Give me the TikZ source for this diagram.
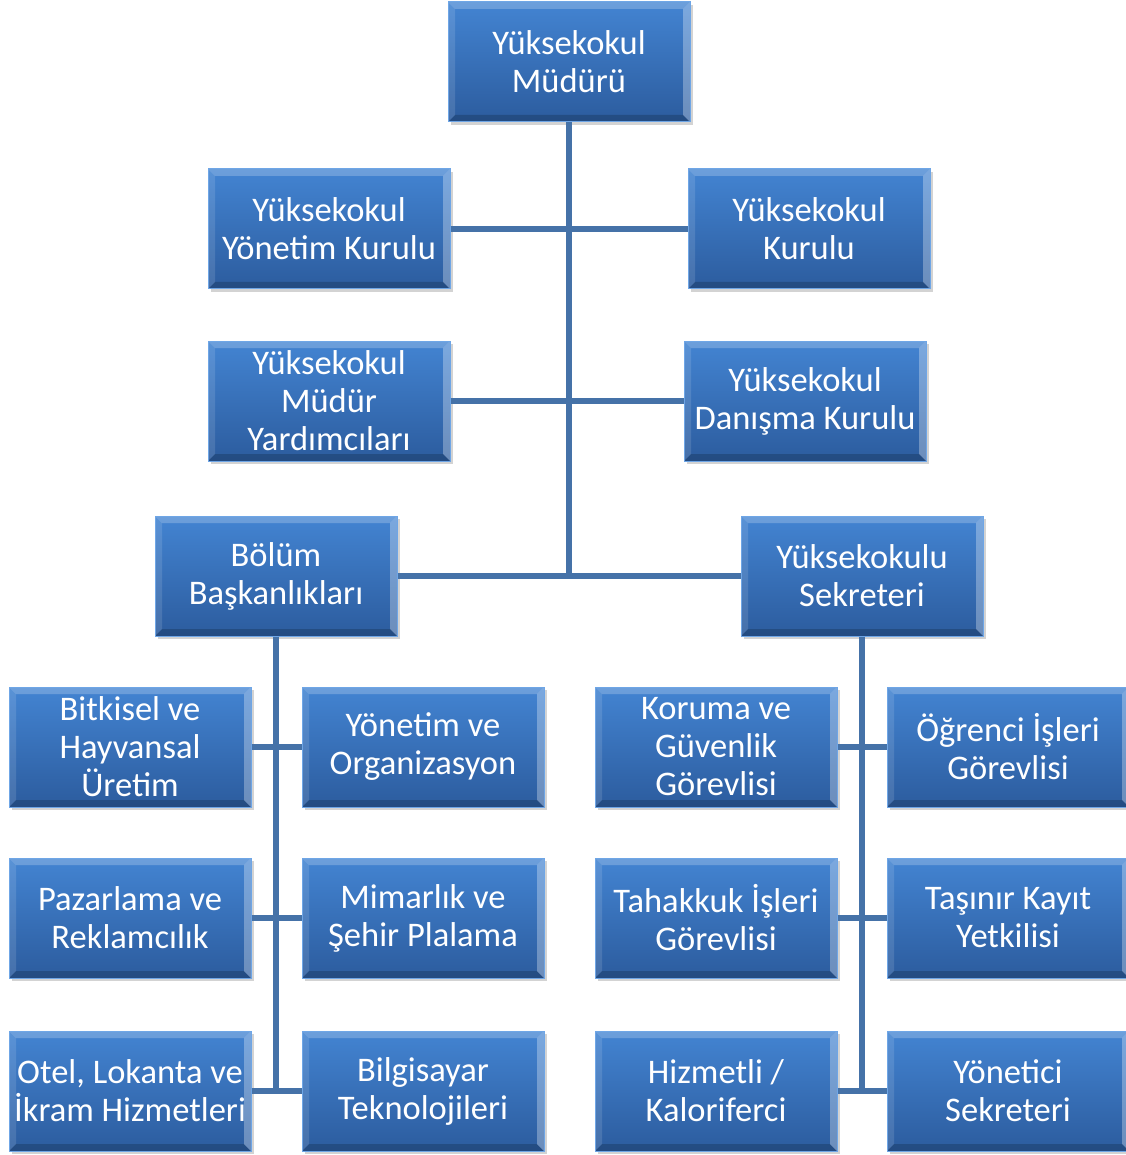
\documentclass[tikz,border=0pt]{standalone}
\usepackage{fontspec}
\setmainfont{Carlito}
\usetikzlibrary{shadows}

\definecolor{boxtop}{HTML}{4384D2}
\definecolor{boxbot}{HTML}{2C5C9E}
\definecolor{boxedge}{HTML}{6FA6E6}
\definecolor{linec}{HTML}{4572A8}

\tikzset{
  orgbox/.style={
    rectangle, minimum width=242pt, minimum height=120pt, inner sep=0pt,
    align=center, text=white, font=\fontsize{34.5}{38}\selectfont,
    top color=boxtop, bottom color=boxbot, draw=boxedge, line width=1pt,
    drop shadow={shadow xshift=3pt, shadow yshift=-3pt, opacity=0.35},
    path picture={
      \fill[white,opacity=0.22] (path picture bounding box.north west) -- (path picture bounding box.north east)
        -- ([xshift=-7pt,yshift=-7pt]path picture bounding box.north east) -- ([xshift=7pt,yshift=-7pt]path picture bounding box.north west) -- cycle;
      \fill[white,opacity=0.12] (path picture bounding box.north west) -- ([xshift=7pt,yshift=-7pt]path picture bounding box.north west)
        -- ([xshift=7pt,yshift=7pt]path picture bounding box.south west) -- (path picture bounding box.south west) -- cycle;
      \fill[black,opacity=0.18] (path picture bounding box.south west) -- (path picture bounding box.south east)
        -- ([xshift=-7pt,yshift=7pt]path picture bounding box.south east) -- ([xshift=7pt,yshift=7pt]path picture bounding box.south west) -- cycle;
      \fill[white,opacity=0.3] (path picture bounding box.north east) -- ([xshift=-7pt,yshift=-7pt]path picture bounding box.north east)
        -- ([xshift=-7pt,yshift=7pt]path picture bounding box.south east) -- (path picture bounding box.south east) -- cycle;
    }},
  orgline/.style={linec, line width=6pt}
}

\begin{document}
\begin{tikzpicture}[x=1pt,y=-1pt]
  \useasboundingbox (0,0) rectangle (1125,1155);

  % Top levels
  \node[orgbox] (mudur) at (569,62) {Yüksekokul\\Müdürü};
  \node[orgbox] (yonkur) at (329,229) {Yüksekokul\\Yönetim Kurulu};
  \node[orgbox] (kurul) at (809,229) {Yüksekokul\\Kurulu};
  \node[orgbox] (yardim) at (329,401) {Yüksekokul\\Müdür\\Yardımcıları};
  \node[orgbox] (danisma) at (805,401) {Yüksekokul\\Danışma Kurulu};
  \node[orgbox] (bolum) at (276,576) {Bölüm\\Başkanlıkları};
  \node[orgbox] (sekreter) at (862,576) {Yüksekokulu\\Sekreteri};

  % Departments
  \node[orgbox] (bitkisel) at (130,747) {Bitkisel ve\\Hayvansal\\Üretim};
  \node[orgbox] (yonorg) at (423,747) {Yönetim ve\\Organizasyon};
  \node[orgbox] (pazar) at (130,918) {Pazarlama ve\\Reklamcılık};
  \node[orgbox] (mimar) at (423,918) {Mimarlık ve\\Şehir Plalama};
  \node[orgbox] (otel) at (130,1091) {Otel, Lokanta ve\\İkram Hizmetleri};
  \node[orgbox] (bilgi) at (423,1091) {Bilgisayar\\Teknolojileri};

  % Staff
  \node[orgbox] (koruma) at (716,747) {Koruma ve\\Güvenlik\\Görevlisi};
  \node[orgbox] (ogrenci) at (1008,747) {Öğrenci İşleri\\Görevlisi};
  \node[orgbox] (tahakkuk) at (716,918) {Tahakkuk İşleri\\Görevlisi};
  \node[orgbox] (tasinir) at (1008,918) {Taşınır Kayıt\\Yetkilisi};
  \node[orgbox] (hizmet) at (716,1091) {Hizmetli /\\Kaloriferci};
  \node[orgbox] (yonsek) at (1008,1091) {Yönetici\\Sekreteri};

  % Connectors
  \draw[orgline] (mudur.south) -- (mudur.south |- bolum.east);
  \draw[orgline] (yonkur.east) -- (kurul.west);
  \draw[orgline] (yardim.east) -- (danisma.west);
  \draw[orgline] (bolum.east) -- (sekreter.west);

  \draw[orgline] (bolum.south) -- (bolum.south |- otel.east);
  \draw[orgline] (bitkisel.east) -- (yonorg.west);
  \draw[orgline] (pazar.east) -- (mimar.west);
  \draw[orgline] (otel.east) -- (bilgi.west);

  \draw[orgline] (sekreter.south) -- (sekreter.south |- hizmet.east);
  \draw[orgline] (koruma.east) -- (ogrenci.west);
  \draw[orgline] (tahakkuk.east) -- (tasinir.west);
  \draw[orgline] (hizmet.east) -- (yonsek.west);
\end{tikzpicture}
\end{document}
